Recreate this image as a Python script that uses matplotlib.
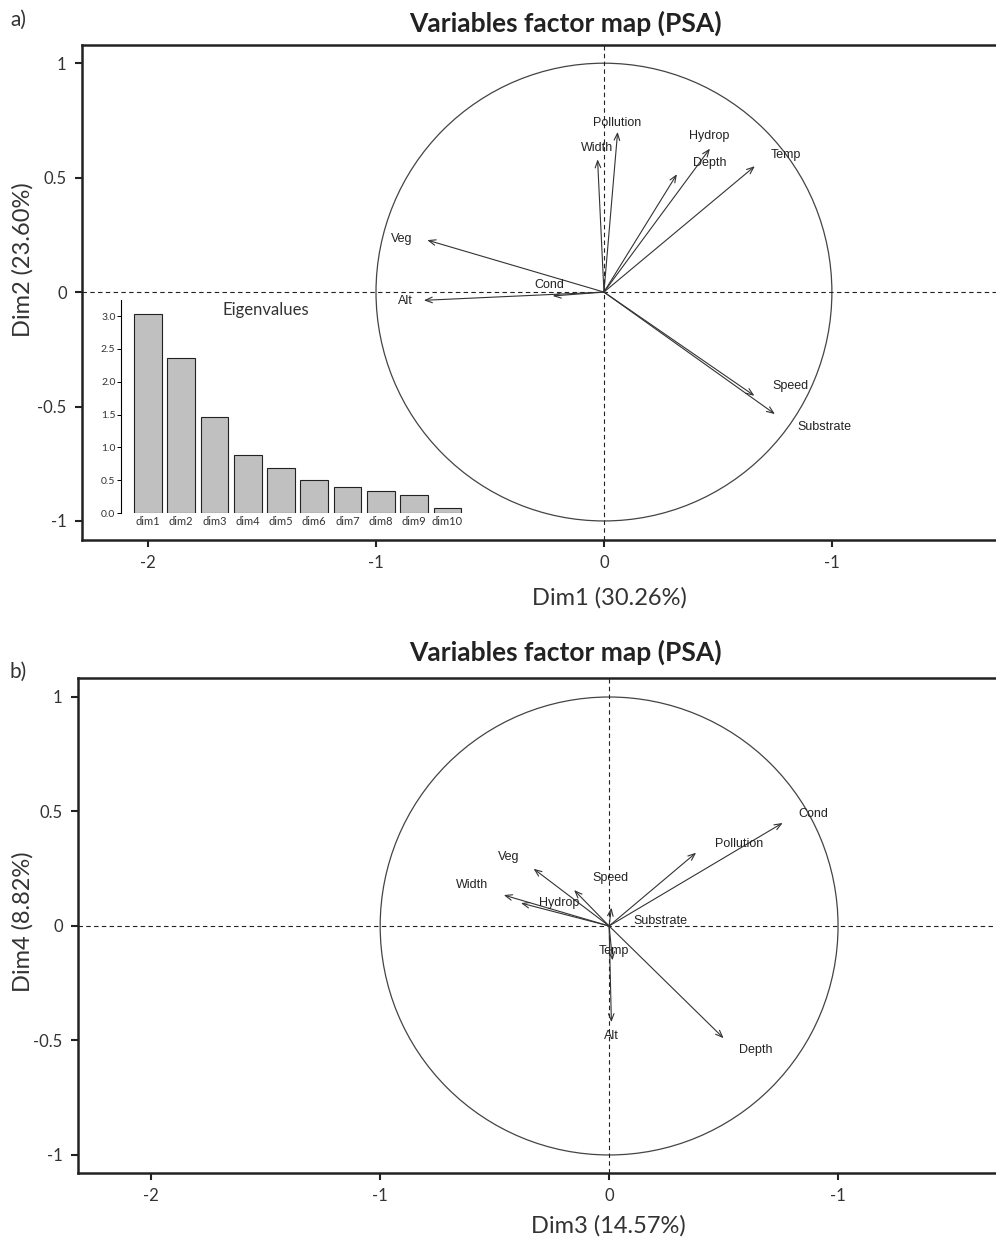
import matplotlib
matplotlib.use('Agg')

import numpy as np
import matplotlib.pyplot as plt
from matplotlib.patches import Circle

# ─── Data ───
eig_labels = ['dim1', 'dim2', 'dim3', 'dim4', 'dim5', 'dim6', 'dim7', 'dim8', 'dim9', 'dim10']
eig_values = [3.026, 2.360, 1.457, 0.882, 0.69, 0.51, 0.39, 0.33, 0.27, 0.08]

# Panel a: Dim1 / Dim2 loadings
vars_a = ['Pollution', 'Width', 'Hydrop', 'Depth', 'Temp', 'Veg', 'Cond', 'Alt', 'Speed', 'Substrate']
dim1 = [0.06, -0.028, 0.465, 0.32, 0.662, -0.775, -0.225, -0.79, 0.66, 0.75]
dim2 = [0.70, 0.58, 0.627, 0.515, 0.55, 0.227, -0.017, -0.036, -0.453, -0.533]
lab_a_x = [0.057, -0.03, 0.46, 0.465, 0.80, -0.887, -0.24, -0.87, 0.82, 0.965]
lab_a_y = [0.74, 0.63, 0.68, 0.565, 0.60, 0.23, 0.03, -0.04, -0.41, -0.588]

# Panel b: Dim3 / Dim4 loadings
vars_b = ['Veg', 'Width', 'Hydrop', 'Speed', 'Substrate', 'Temp', 'Alt', 'Depth', 'Pollution', 'Cond']
dim3 = [-0.33, -0.46, -0.385, -0.153, 0.01, 0.015, 0.01, 0.50, 0.38, 0.758]
dim4 = [0.25, 0.135, 0.10, 0.157, 0.08, -0.15, -0.42, -0.49, 0.32, 0.45]
lab_b_x = [-0.44, -0.60, -0.22, 0.005, 0.225, 0.02, 0.01, 0.64, 0.57, 0.89]
lab_b_y = [0.30, 0.18, 0.10, 0.21, 0.02, -0.11, -0.48, -0.54, 0.36, 0.49]

xtick_pos = [-2, -1, 0, 1]
xtick_lab = ['-2', '-1', '0', '-1']
ytick_pos = [1, 0.5, 0, -0.5, -1]
ytick_lab = ['1', '0.5', '0', '-0.5', '-1']

TXT = '#333333'
tick_font = ['Liberation Sans Narrow', 'Lato', 'DejaVu Sans']
head_font = ['Lato', 'DejaVu Sans']
arrow_font = ['Liberation Sans', 'DejaVu Sans']

fig = plt.figure(figsize=(9.96, 12.47), dpi=100)


def factor_map(ax, xs, ys, names, lx, ly, xlim, ylim, xlabel, ylabel, xl_pos, yl_pos):
    ax.set_xlim(*xlim)
    ax.set_ylim(*ylim)
    ax.axhline(0, color='#222222', linestyle='--', linewidth=0.8, dashes=(4, 3))
    ax.axvline(0, color='#222222', linestyle='--', linewidth=0.8, dashes=(4, 3))
    ax.add_patch(Circle((0, 0), 1, fill=False, edgecolor='#444444', linewidth=0.9))
    for x, y in zip(xs, ys):
        ax.annotate('', xy=(x, y), xytext=(0, 0),
                    arrowprops=dict(arrowstyle='->,head_length=0.5,head_width=0.2',
                                    color='#333333', lw=0.8, shrinkA=0, shrinkB=0))
    for name, x, y in zip(names, lx, ly):
        ax.text(x, y, name, ha='center', va='center', fontsize=9,
                color='#222222', family=arrow_font)

    for s in ['left', 'top', 'bottom']:
        ax.spines[s].set_linewidth(1.8)
        ax.spines[s].set_color('#222222')
    ax.spines['right'].set_visible(False)
    ax.set_xticks(xtick_pos)
    ax.set_xticklabels(xtick_lab, family=tick_font, fontsize=12, color=TXT)
    ax.set_yticks(ytick_pos)
    ax.set_yticklabels(ytick_lab, family=tick_font, fontsize=12, color=TXT)
    ax.tick_params(direction='out', length=5, width=1.5, color='#222222', pad=6)
    ax.set_xlabel(xlabel, family=head_font, fontsize=17, color=TXT)
    ax.set_ylabel(ylabel, family=head_font, fontsize=17, color=TXT)
    ax.xaxis.set_label_coords(*xl_pos)
    ax.yaxis.set_label_coords(*yl_pos)


# ─── Panel a ───
ax1 = fig.add_axes([0.0823, 0.5670, 0.9177, 0.397])
factor_map(ax1, dim1, dim2, vars_a, lab_a_x, lab_a_y,
           (-2.29, 1.72), (-1.083, 1.08), 'Dim1 (30.26%)', 'Dim2 (23.60%)',
           (0.5766, -0.095), (-0.053, 0.566))

# Eigenvalue inset
axi = fig.add_axes([0.1215, 0.5886, 0.346, 0.171])
axi.patch.set_alpha(0)
axi.bar(range(len(eig_values)), eig_values, width=0.83, color='#c0c0c0',
        edgecolor='#222222', linewidth=0.8)
axi.set_xlim(-0.81, 9.55)
axi.set_ylim(0, 3.25)
for s in ['top', 'right', 'bottom']:
    axi.spines[s].set_visible(False)
axi.spines['left'].set_linewidth(0.8)
axi.set_yticks([0, 0.5, 1.0, 1.5, 2.0, 2.5, 3.0])
axi.set_yticklabels(['0.0', '0.5', '1.0', '1.5', '2.0', '2.5', '3.0'],
                    fontsize=7.5, family=head_font, color=TXT)
axi.set_xticks(range(len(eig_labels)))
axi.set_xticklabels(eig_labels, fontsize=8, family=head_font, color=TXT)
axi.tick_params(axis='x', length=0, pad=2)
axi.tick_params(axis='y', length=3, width=0.7, pad=1)
axi.text(0.42, 0.95, 'Eigenvalues', transform=axi.transAxes, ha='center', va='center',
         fontsize=12, family=head_font, color=TXT)

# ─── Panel b ───
ax2 = fig.add_axes([0.0783, 0.0593, 0.9217, 0.397])
factor_map(ax2, dim3, dim4, vars_b, lab_b_x, lab_b_y,
           (-2.32, 1.69), (-1.079, 1.083), 'Dim3 (14.57%)', 'Dim4 (8.82%)',
           (0.578, -0.085), (-0.048, 0.507))

# Titles and panel letters
fig.text(0.568, 0.981, 'Variables factor map (PSA)', ha='center', va='center',
         fontsize=19, fontweight='bold', family=head_font, color='#222222')
fig.text(0.568, 0.477, 'Variables factor map (PSA)', ha='center', va='center',
         fontsize=19, fontweight='bold', family=head_font, color='#222222')
fig.text(0.010, 0.984, 'a)', ha='left', va='center', fontsize=15, family=head_font, color=TXT)
fig.text(0.010, 0.461, 'b)', ha='left', va='center', fontsize=15, family=head_font, color=TXT)

fig.savefig('out.png', dpi=100)
plt.close(fig)
